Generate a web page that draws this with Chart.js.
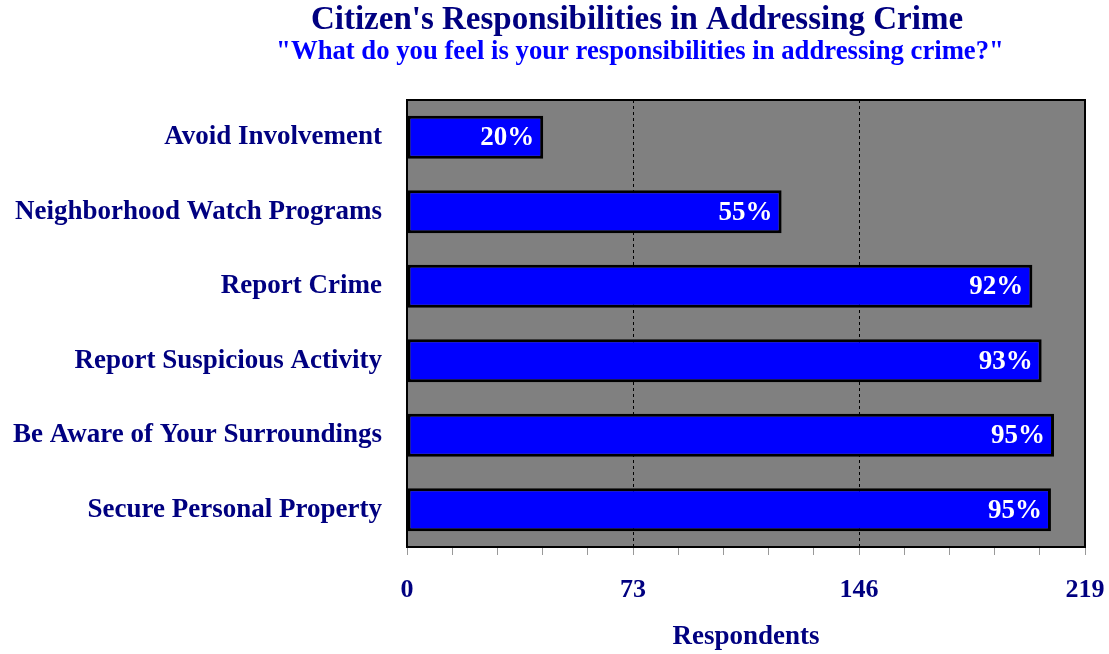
<!DOCTYPE html>
<html>
<head>
<meta charset="utf-8">
<script src="https://cdn.jsdelivr.net/npm/chart.js@4/dist/chart.umd.min.js"></script>
<style>
  html, body { margin: 0; padding: 0; background: #fff; }
  #wrap { width: 1109px; height: 654px; }
</style>
</head>
<body>
<div id="wrap"><canvas id="chart"></canvas></div>
<script>
// chart data
const categories = ['Avoid Involvement', 'Neighborhood Watch Programs', 'Report Crime',
    'Report Suspicious Activity', 'Be Aware of Your Surroundings', 'Secure Personal Property'];
const respondents = [44, 121, 202, 205, 209, 208];
const percentLabels = ['20%', '55%', '92%', '93%', '95%', '95%'];
const axisTicks = [0, 73, 146, 219];
const minorPerMajor = 5;

const titleText = "Citizen's Responsibilities in Addressing Crime";
const subtitleText = '"What do you feel is your responsibilities in addressing crime?"';

const NAVY = '#000080';
const SERIF = '"Liberation Serif", "Times New Roman", serif';

// plot background + frame
const plotFrame = {
    id: 'plotFrame',
    beforeDraw(chart) {
        const { ctx, chartArea: a } = chart;
        ctx.save();
        ctx.fillStyle = '#808080';
        ctx.fillRect(a.left, a.top, a.right - a.left, a.bottom - a.top);
        ctx.restore();
    },
    afterDatasetsDraw(chart) {
        const { ctx, chartArea: a } = chart;
        ctx.save();
        ctx.strokeStyle = '#000';
        ctx.lineWidth = 2;
        ctx.strokeRect(a.left, a.top, a.right - a.left, a.bottom - a.top);
        ctx.restore();
    }
};

// percent labels inside the bar ends
const barLabels = {
    id: 'barLabels',
    afterDatasetsDraw(chart) {
        const { ctx } = chart;
        const meta = chart.getDatasetMeta(0);
        ctx.save();
        ctx.font = 'bold 27px ' + SERIF;
        ctx.fillStyle = '#fff';
        ctx.textAlign = 'right';
        ctx.textBaseline = 'middle';
        meta.data.forEach((bar, i) => {
            ctx.fillText(percentLabels[i], bar.x - 9, bar.y + 1);
        });
        ctx.restore();
    }
};

// heading text above the plot
const heading = {
    id: 'heading',
    afterDraw(chart) {
        const { ctx } = chart;
        ctx.save();
        ctx.textAlign = 'center';
        ctx.textBaseline = 'middle';
        ctx.fillStyle = NAVY;
        ctx.font = 'bold 33px ' + SERIF;
        ctx.fillText(titleText, 637, 20);
        ctx.fillStyle = '#0000FF';
        ctx.font = 'bold 26.7px ' + SERIF;
        ctx.fillText(subtitleText, 640, 52);
        ctx.restore();
    }
};

const step = (axisTicks[1] - axisTicks[0]) / minorPerMajor;

new Chart(document.getElementById('chart'), {
    type: 'bar',
    data: {
        labels: categories,
        datasets: [{
            data: respondents,
            backgroundColor: '#0000FF',
            borderColor: '#000',
            borderWidth: 3,
            borderSkipped: false,
            barPercentage: 0.58,
            categoryPercentage: 1
        }]
    },
    options: {
        indexAxis: 'y',
        responsive: true,
        maintainAspectRatio: false,
        animation: false,
        layout: { padding: { top: 100, right: 24, bottom: 0, left: 0 } },
        plugins: {
            legend: { display: false },
            tooltip: { enabled: false }
        },
        scales: {
            x: {
                min: axisTicks[0],
                max: axisTicks[axisTicks.length - 1],
                afterBuildTicks(scale) {
                    const ticks = [];
                    const n = (axisTicks.length - 1) * minorPerMajor;
                    for (let i = 0; i <= n; i++) {
                        ticks.push({ value: i % minorPerMajor === 0 ? axisTicks[i / minorPerMajor] : axisTicks[0] + i * step });
                    }
                    scale.ticks = ticks;
                },
                afterFit(scale) {
                    scale.height = 107;
                    scale.paddingLeft = 0;
                    scale.paddingRight = 0;
                },
                border: { display: false, dash: [3, 3] },
                grid: {
                    drawOnChartArea: true,
                    color: (c) => (c.index % minorPerMajor === 0 && c.index > 0 && c.index < (axisTicks.length - 1) * minorPerMajor) ? '#000' : 'rgba(0,0,0,0)',
                    lineWidth: 1,
                    tickColor: '#999',
                    tickLength: 8,
                    tickBorderDash: [],
                    tickWidth: 1
                },
                ticks: {
                    autoSkip: false,
                    maxRotation: 0,
                    padding: 20,
                    color: NAVY,
                    font: { family: SERIF, size: 26, weight: 'bold' },
                    callback: (v, i) => i % minorPerMajor === 0 ? axisTicks[i / minorPerMajor] : ''
                },
                title: {
                    display: true,
                    text: 'Respondents',
                    color: NAVY,
                    font: { family: SERIF, size: 27, weight: 'bold' },
                    padding: { top: 0, bottom: 1 }
                }
            },
            y: {
                afterFit(scale) { scale.width = 407; },
                border: { display: false },
                grid: { display: false, drawTicks: false },
                ticks: {
                    padding: 25,
                    color: NAVY,
                    font: { family: SERIF, size: 27, weight: 'bold' }
                }
            }
        }
    },
    plugins: [plotFrame, barLabels, heading]
});
</script>
</body>
</html>
